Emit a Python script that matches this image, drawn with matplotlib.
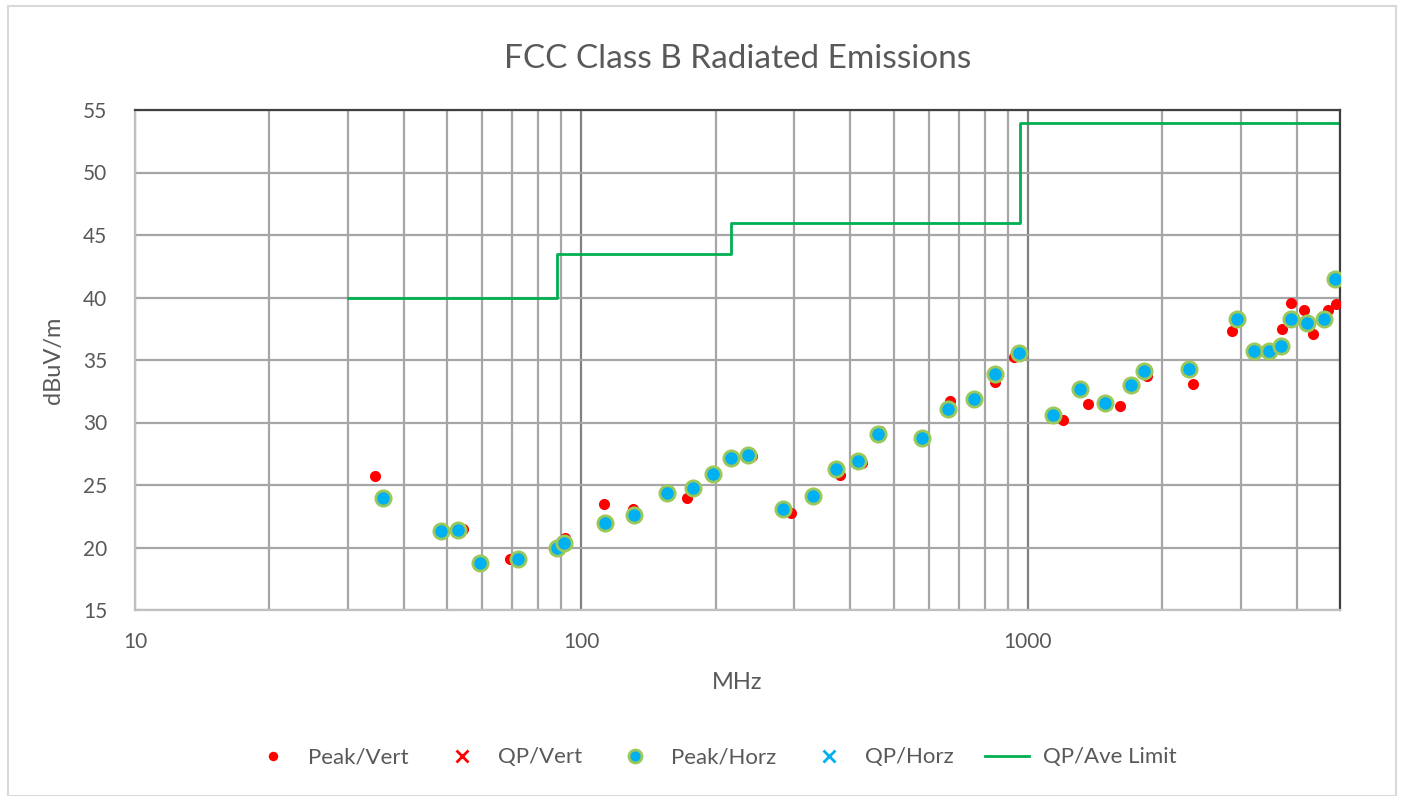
import numpy as np
import matplotlib
matplotlib.use("Agg")
import matplotlib.pyplot as plt
from matplotlib.patches import Rectangle
from matplotlib.ticker import FixedLocator, NullFormatter

plt.rcParams['font.family'] = ['Lato', 'DejaVu Sans']

# Peak / vertical polarization (MHz, dBuV/m)
pv_f = [34.5, 54.3, 59.2, 69.2, 88.1, 91.7, 112.3, 130.2, 155.2, 172.0, 197.5,
        217.5, 240.4, 294.5, 333.0, 379.3, 424.0, 466.0, 580.0, 668.7, 758.0,
        843.6, 930.5, 1200.0, 1360.0, 1488.0, 1607.0, 1844.0, 2345.0, 2863.0,
        3699.0, 3882.0, 4150.0, 4355.0, 4706.0, 4897.0]
pv_db = [25.7, 21.5, 18.8, 19.1, 20.0, 20.8, 23.5, 23.1, 24.4, 24.0, 26.1,
         27.3, 27.3, 22.8, 24.1, 25.8, 26.8, 29.3, 28.8, 31.7, 32.1,
         33.2, 35.2, 30.2, 31.5, 31.6, 31.3, 33.7, 33.1, 37.3,
         37.5, 39.6, 39.0, 37.1, 39.0, 39.5]

# Peak / horizontal polarization
ph_f = [35.9, 48.5, 52.9, 59.2, 72.1, 88.1, 91.4, 113.0, 131.3, 155.2, 177.4,
        196.7, 216.2, 236.4, 282.2, 329.5, 371.5, 415.6, 462.1, 578.0, 660.8,
        758.5, 843.6, 953.0, 1139.5, 1308.0, 1488.0, 1698.0, 1819.0, 2297.0,
        2938.0, 3208.0, 3471.0, 3681.0, 3875.0, 4209.0, 4609.0, 4870.0]
ph_db = [24.0, 21.3, 21.4, 18.8, 19.1, 20.0, 20.4, 22.0, 22.6, 24.4, 24.8,
         25.9, 27.2, 27.4, 23.1, 24.1, 26.3, 26.9, 29.1, 28.8, 31.1,
         31.9, 33.9, 35.6, 30.6, 32.7, 31.6, 33.0, 34.1, 34.3,
         38.3, 35.7, 35.7, 36.1, 38.3, 38.0, 38.3, 41.5]

# quasi-peak readings (none recorded)
qv_f, qv_db = [], []
qh_f, qh_db = [], []

# FCC class B limit steps
lim_f = [30, 88, 88, 216, 216, 960, 960, 5000]
lim_db = [40, 40, 43.5, 43.5, 46, 46, 54, 54]

fig = plt.figure(figsize=(14.03, 7.96), dpi=100)
ax = fig.add_axes([135/1403, 1-610/796, (1340-135)/1403, 500/796])

fig.patches.append(Rectangle((8/1403, 0), (1396-8)/1403, (796-6)/796,
                             transform=fig.transFigure, fill=False,
                             edgecolor='#d9d9d9', lw=1.5))

ax.set_xscale('log')
ax.set_xlim(10, 5000)
ax.set_ylim(15, 55)
ax.set_yticks(range(15, 56, 5))
ax.xaxis.set_major_locator(FixedLocator([10, 100, 1000]))
ax.xaxis.set_minor_locator(FixedLocator([20, 30, 40, 50, 60, 70, 80, 90,
                                         200, 300, 400, 500, 600, 700, 800, 900,
                                         2000, 3000, 4000, 5000]))
ax.xaxis.set_major_formatter(plt.FuncFormatter(lambda v, p: f"{v:g}"))
ax.xaxis.set_minor_formatter(NullFormatter())
ax.tick_params(which='both', length=0, labelsize=15, colors='#595959')
ax.tick_params(axis='x', pad=16)
ax.tick_params(axis='y', pad=20)

ax.grid(axis='y', color='#a6a6a6', lw=1.6)
ax.grid(axis='x', which='minor', color='#a6a6a6', lw=1.6)
ax.grid(axis='x', which='major', color='#808080', lw=1.6)
ax.set_axisbelow(True)

for s in ['left', 'bottom']:
    ax.spines[s].set_color('#bfbfbf')
    ax.spines[s].set_linewidth(1.6)
for s in ['top', 'right']:
    ax.spines[s].set_color('#404040')
    ax.spines[s].set_linewidth(1.6)

ax.plot(lim_f, lim_db, color='#00b050', lw=2, label='QP/Ave Limit', zorder=2)
ax.plot(pv_f, pv_db, 'o', color='#ff0000', ms=8, mec='none', label='Peak/Vert', zorder=3)
ax.plot(qv_f, qv_db, 'x', color='#ff0000', ms=10, mew=2, label='QP/Vert', zorder=3)
ax.plot(ph_f, ph_db, 'o', color='#00b0f0', ms=11, mec='#9bc85a', mew=2, label='Peak/Horz', zorder=4)
ax.plot(qh_f, qh_db, 'x', color='#00b0f0', ms=10, mew=2, label='QP/Horz', zorder=4)

ax.set_title('FCC Class B Radiated Emissions', fontsize=24, color='#595959', pad=30)
ax.set_xlabel('MHz', fontsize=17, color='#595959', labelpad=14)
ax.set_ylabel('dBuV/m', fontsize=17, color='#595959', labelpad=14)

h, l = ax.get_legend_handles_labels()
order = [1, 2, 3, 4, 0]
ax.legend([h[i] for i in order], [l[i] for i in order], loc='center',
          bbox_to_anchor=(0.48, -0.295), ncol=5, frameon=False, fontsize=16,
          labelcolor='#595959', handlelength=2.0, handletextpad=0.6,
          columnspacing=1.4, markerscale=0.85)

fig.savefig('out.png', dpi=100)
